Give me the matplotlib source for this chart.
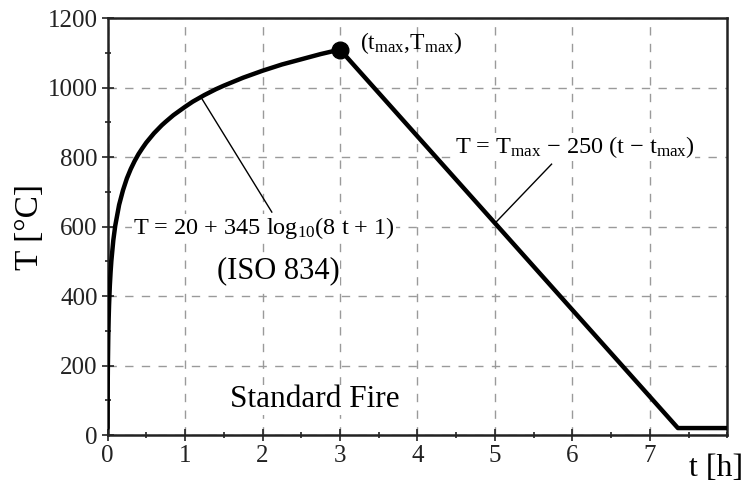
import matplotlib
matplotlib.use("Agg")
import matplotlib.pyplot as plt
from matplotlib.ticker import MultipleLocator

plt.rcParams['font.family'] = ['Liberation Serif', 'DejaVu Serif']
plt.rcParams['mathtext.fontset'] = 'custom'
plt.rcParams['mathtext.rm'] = 'Liberation Serif'
plt.rcParams['mathtext.it'] = 'Liberation Serif:italic'

# heating branch (ISO 834), time in hours, temperature in degC
t_heat = [0, 0.001, 0.002, 0.005, 0.01, 0.015, 0.02, 0.03, 0.04, 0.05, 0.075,
          0.1, 0.15, 0.2, 0.25, 0.3, 0.35, 0.4, 0.45, 0.5, 0.6, 0.7, 0.75,
          0.85, 1.0, 1.1, 1.25, 1.4, 1.5, 1.75, 2.0, 2.25, 2.5, 2.75, 3.0]
T_heat = [20, 79, 121, 203, 283, 335, 374, 430, 470, 502, 561,
          603, 663, 705, 739, 766, 789, 809, 826, 842, 869, 892, 902,
          921, 945, 960, 979, 996, 1006, 1029, 1049, 1067, 1082, 1097, 1110]

# cooling branch and ambient plateau
t_cool = [3.0, 7.36, 8.0]
T_cool = [1110, 20, 20]

t_peak, T_peak = 3.0, 1110

x_ticks = [0, 1, 2, 3, 4, 5, 6, 7]
y_ticks = [0, 200, 400, 600, 800, 1000, 1200]

fig = plt.figure(figsize=(7.45, 4.82), dpi=100)
ax = fig.add_axes([0.1443, 0.0975, 0.8322, 0.8645])

ax.plot(t_heat, T_heat, color='black', lw=3.2, solid_joinstyle='round',
        solid_capstyle='round', zorder=4)
ax.plot(t_cool, T_cool, color='black', lw=3.2, solid_joinstyle='round', zorder=4)
ax.plot([t_peak], [T_peak], 'o', color='black', ms=12, zorder=5)

ax.set_xlim(0, 8)
ax.set_ylim(0, 1200)
ax.set_xticks(x_ticks)
ax.set_yticks(y_ticks)
ax.xaxis.set_minor_locator(MultipleLocator(0.5))
ax.yaxis.set_minor_locator(MultipleLocator(100))
ax.tick_params(which='major', direction='inout', length=8, width=1.2,
               labelsize=18, pad=3, colors='#222222')
ax.tick_params(which='minor', direction='inout', length=5, width=1.2, colors='#222222')

for s in ax.spines.values():
    s.set_linewidth(1.8)
    s.set_color('#222222')

ax.grid(True, which='major', color='#9a9a9a', lw=1.0, linestyle=(0, (6, 6)))
ax.set_axisbelow(True)

ax.set_ylabel('T [°C]', fontsize=24, labelpad=2)
ax.text(1.025, -0.045, 't [h]', transform=ax.transAxes, fontsize=23,
        ha='right', va='top')

box = dict(facecolor='white', edgecolor='none', pad=0.5)

# leader lines to the curves
ax.plot([1.2, 2.12], [975, 642], color='black', lw=1.0, zorder=3)
ax.plot([5.0, 5.73], [610, 780], color='black', lw=1.0, zorder=3)

ax.text(0.33, 596, 'T = 20 + 345 log$_{10}$(8 t + 1)', fontsize=17.5,
        ha='left', va='center', bbox=box, zorder=6)
ax.text(2.2, 472, '(ISO 834)', fontsize=22, ha='center', va='center',
        bbox=box, zorder=6)
ax.text(3.26, 1129, '(t$_{\\mathrm{max}}$,T$_{\\mathrm{max}}$)', fontsize=17,
        ha='left', va='center', zorder=6)
ax.text(4.48, 829, 'T = T$_{\\mathrm{max}}$ \u2212 250 (t \u2212 t$_{\\mathrm{max}}$)',
        fontsize=17.5, ha='left', va='center', bbox=box, zorder=6)
ax.text(2.68, 101, 'Standard Fire', fontsize=22.5, ha='center', va='center',
        bbox=box, zorder=6)

fig.savefig('out.png', dpi=100)
